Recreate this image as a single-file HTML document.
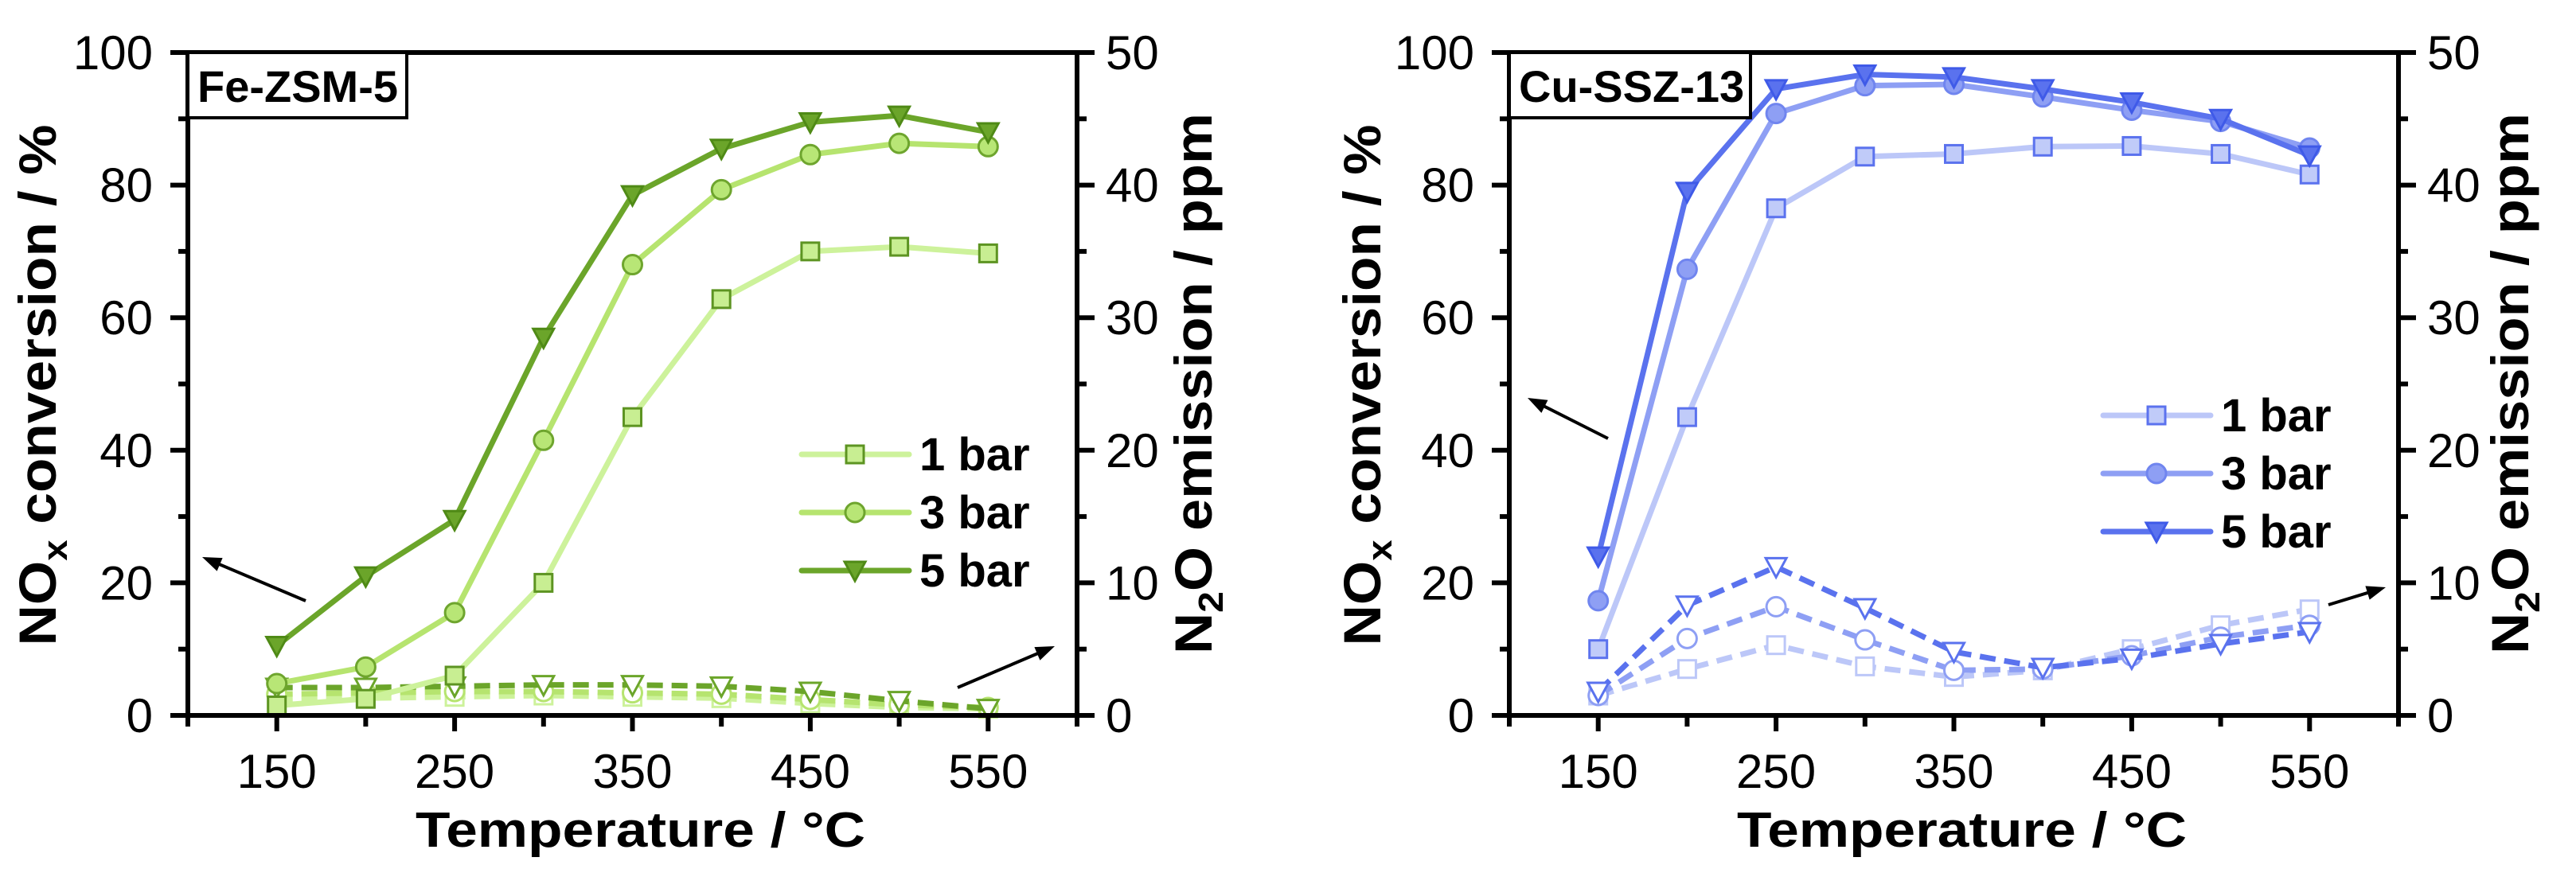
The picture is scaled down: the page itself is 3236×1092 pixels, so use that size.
<!DOCTYPE html>
<html><head><meta charset="utf-8"><style>
html,body{margin:0;padding:0;background:#fff;}
svg{display:block;font-family:"Liberation Sans",Arial,sans-serif;}
</style></head><body>
<svg id="fig" width="3236" height="1092" viewBox="0 0 3236 1092" xmlns="http://www.w3.org/2000/svg"></svg>
<script>
const temps = [150,200,250,300,350,400,450,500,550];
const xTicks = [150,250,350,450,550];
const yTicksLeft = [0,20,40,60,80,100];
const yTicksRight = [0,10,20,30,40,50];
const feNox1 = [1.5,2.5,6,20,45,62.8,70,70.7,69.7];
const feNox3 = [4.8,7.3,15.5,41.5,68,79.3,84.6,86.3,85.8];
const feNox5 = [10.5,21,29.5,57,78.5,85.5,89.5,90.5,88];
const feN2o1 = [1.2,1.3,1.4,1.5,1.4,1.3,0.9,0.6,0.5];
const feN2o3 = [1.6,1.7,1.8,1.8,1.7,1.6,1.2,0.8,0.6];
const feN2o5 = [2.1,2.1,2.2,2.3,2.3,2.2,1.8,1.1,0.5];
const cuNox1 = [10,45,76.5,84.3,84.7,85.8,85.9,84.7,81.6];
const cuNox3 = [17.3,67.3,90.8,95,95.2,93.3,91.3,89.6,85.6];
const cuNox5 = [24,79,94.5,96.7,96.3,94.5,92.5,90,84.5];
const cuN2o1 = [1.5,3.5,5.3,3.7,2.9,3.4,5,6.8,8];
const cuN2o3 = [1.5,5.8,8.2,5.7,3.4,3.5,4.5,5.9,6.8];
const cuN2o5 = [1.8,8.3,11.2,8.1,4.8,3.6,4.3,5.4,6.3];
const legendLabels = ["1 bar","3 bar","5 bar"];

const NS="http://www.w3.org/2000/svg";
const svg=document.getElementById('fig');
function mk(tag,attrs,parent){const e=document.createElementNS(NS,tag);for(const k in attrs)e.setAttribute(k,attrs[k]);(parent||svg).appendChild(e);return e;}

function panel(cfg){
  const L=cfg.left,R=cfg.right,T=66,B=899;
  const g=mk('g',{});
  
  
  const xs=v=>L+(v-100)/500*(R-L);
  const yl=v=>B-v/100*(B-T);
  const yr=v=>B-v/50*(B-T);
  // series
  const styles=[
    {nox:cfg.nox[0],n2o:cfg.n2o[0],c:cfg.cols[0],m:'square'},
    {nox:cfg.nox[1],n2o:cfg.n2o[1],c:cfg.cols[1],m:'circle'},
    {nox:cfg.nox[2],n2o:cfg.n2o[2],c:cfg.cols[2],m:'tri'}];
  function marker(parent,m,x,y,fill,stroke){
    let e;
    if(m==='square') e=mk('rect',{x:x-11,y:y-11,width:22,height:22,fill:fill,stroke:stroke,'stroke-width':3},parent);
    else if(m==='circle') e=mk('circle',{cx:x,cy:y,r:12,fill:fill,stroke:stroke,'stroke-width':3},parent);
    else e=mk('path',{d:`M${x-13} ${y-11}L${x+13} ${y-11}L${x} ${y+13}Z`,fill:fill,stroke:stroke,'stroke-width':3},parent);
    return e;
  }
  styles.forEach((s,i)=>{
    const pd=mk('polyline',{points:temps.map((t,j)=>xs(t)+','+yr(s.n2o[j])).join(' '),fill:'none',stroke:s.c.line,'stroke-width':7,'stroke-dasharray':'20 11'},g);
    
    
    temps.forEach((t,j)=>{const mm=marker(g,s.m,xs(t),yr(s.n2o[j]),'#fff',s.c.line);
      
      });
  });
  styles.forEach((s,i)=>{
    const pl=mk('polyline',{points:temps.map((t,j)=>xs(t)+','+yl(s.nox[j])).join(' '),fill:'none',stroke:s.c.line,'stroke-width':7,'stroke-linejoin':'round'},g);
    
    
    temps.forEach((t,j)=>{const mm=marker(g,s.m,xs(t),yl(s.nox[j]),s.c.fill,s.c.edge);
      
      });
  });
  // frame
  const fr=mk('rect',{x:L,y:T,width:R-L,height:B-T,fill:'none',stroke:'#000','stroke-width':6},g);
  
  
  // x ticks
  for(let v=100;v<=600;v+=50){mk('line',{x1:xs(v),y1:B,x2:xs(v),y2:B+(v%100===50?20:14),stroke:'#000','stroke-width':6},g);}
  xTicks.forEach(v=>{const t=mk('text',{x:xs(v),y:990,'font-size':60,'text-anchor':'middle'},g);t.textContent=v;
    });
  // y ticks
  for(let v=0;v<=100;v+=10){const y=yl(v);const maj=v%20===0;
    mk('line',{x1:L-(maj?22:12),y1:y,x2:L,y2:y,stroke:'#000','stroke-width':6},g);
    mk('line',{x1:R,y1:y,x2:R+(maj?22:12),y2:y,stroke:'#000','stroke-width':6},g);}
  yTicksLeft.forEach(v=>{const t=mk('text',{x:L-44,y:yl(v)+21,'font-size':60,'text-anchor':'end'},g);t.textContent=v;
    });
  yTicksRight.forEach(v=>{const t=mk('text',{x:R+36,y:yr(v)+21,'font-size':60,'text-anchor':'start'},g);t.textContent=v;
    });
  // titles
  const xt=mk('text',{x:(L+R)/2+10,y:1064,'font-size':62,'font-weight':'bold','text-anchor':'middle',textLength:565,lengthAdjust:'spacingAndGlyphs'},g);
  xt.textContent='Temperature / °C';
  
  const ylt=mk('text',{transform:`translate(${cfg.ylx},484) rotate(-90)`,'font-size':66,'font-weight':'bold','text-anchor':'middle',textLength:655,lengthAdjust:'spacingAndGlyphs'},g);
  ylt.innerHTML='NO<tspan font-size="44" dy="14">x</tspan><tspan dy="-14"> conversion / %</tspan>';
  
  const yrt=mk('text',{transform:`translate(${cfg.yrx},482) rotate(-90)`,'font-size':66,'font-weight':'bold','text-anchor':'middle',textLength:680,lengthAdjust:'spacingAndGlyphs'},g);
  yrt.innerHTML='N<tspan font-size="44" dy="14">2</tspan><tspan dy="-14">O emission / ppm</tspan>';
  
  // label box
  const bx=mk('rect',{x:L,y:T,width:cfg.boxW,height:82,fill:'#fff',stroke:'#000','stroke-width':4},g);
  
  const bt=mk('text',{x:L+12,y:T+62,'font-size':56,'font-weight':'bold'},g);bt.textContent=cfg.title;
  
  // legend
  styles.forEach((s,i)=>{const y=cfg.legY+i*73;
    const lg=mk('g',{},g);
    
    
    mk('line',{x1:cfg.legX,y1:y,x2:cfg.legX+135,y2:y,stroke:s.c.line,'stroke-width':7,'stroke-linecap':'round'},lg);
    marker(lg,s.m,cfg.legX+67,y,s.c.fill,s.c.edge);
    const t=mk('text',{x:cfg.legX+148,y:y+20,'font-size':58,'font-weight':'bold'},lg);t.textContent=legendLabels[i];});
  // arrows
  cfg.arrows.forEach(a=>{
    const ar=mk('g',{},g);
    
    
    const dx=a[2]-a[0],dy=a[3]-a[1],len=Math.hypot(dx,dy),ux=dx/len,uy=dy/len;
    mk('line',{x1:a[0],y1:a[1],x2:a[2]-ux*14,y2:a[3]-uy*14,stroke:'#000','stroke-width':4},ar);
    const bxp=a[2]-ux*24,byp=a[3]-uy*24;
    mk('path',{d:`M${a[2]} ${a[3]}L${bxp-uy*9} ${byp+ux*9}L${bxp+uy*9} ${byp-ux*9}Z`,fill:'#000'},ar);
  });
}
panel({name:'fe-zsm5-panel',short:'fe',left:236,right:1353,title:'Fe-ZSM-5',boxW:275,ylx:70,yrx:1522,legX:1007,legY:571,
  nox:[feNox1,feNox3,feNox5],n2o:[feN2o1,feN2o3,feN2o5],
  cols:[{line:'#cdf29b',fill:'#c8ee92',edge:'#5d9422'},{line:'#b6e46f',fill:'#b8e676',edge:'#6ea52e'},{line:'#6ba52a',fill:'#6ba52a',edge:'#4f8a16'}],
  arrows:[[384,755,254,700],[1203,864,1325,812]]});
panel({name:'cu-ssz13-panel',short:'cu',left:1896,right:3013,title:'Cu-SSZ-13',boxW:303,ylx:1734,yrx:3176,legX:2642,legY:522,
  nox:[cuNox1,cuNox3,cuNox5],n2o:[cuN2o1,cuN2o3,cuN2o5],
  cols:[{line:'#bcc7f8',fill:'#c0cbf9',edge:'#5b72ee'},{line:'#8e9ff4',fill:'#8e9ff4',edge:'#7085ef'},{line:'#5a72ee',fill:'#5a72ee',edge:'#3f5ae8'}],
  arrows:[[2020,551,1919,500],[2925,760,2997,738]]});
</script>
</body></html>
